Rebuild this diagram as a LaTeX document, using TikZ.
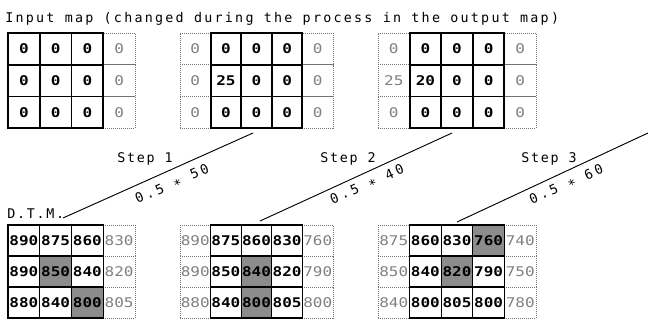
\documentclass[tikz,border=0pt]{standalone}
\usepackage{fontspec}
\newfontfamily\plotfont[LetterSpace=13]{DejaVu Sans Mono}
\newfontfamily\titlefont[LetterSpace=17]{DejaVu Sans Mono}
\newfontfamily\facfont[LetterSpace=22]{DejaVu Sans Mono}
\newfontfamily\numfont[FakeStretch=1.2]{DejaVu Sans Mono}
\tikzset{
  lbl/.style={font=\plotfont\fontsize{10}{12}\selectfont, inner sep=0pt},
  ttl/.style={font=\titlefont\fontsize{10}{12}\selectfont, inner sep=0pt},
  fac/.style={font=\facfont\fontsize{10}{12}\selectfont, inner sep=0pt, rotate=23.6},
  cellbase/.style={inner sep=0pt, outer sep=0pt, font=\numfont\fontsize{10}{12}\selectfont},
  cL/.style={cellbase, draw=black!55, densely dotted, line width=0.5pt, text=black!50},
  cB/.style={cellbase, draw=black, line width=1.3pt, font=\numfont\bfseries\fontsize{10}{12}\selectfont},
  cM/.style={cellbase, draw=black, line width=0.8pt, font=\numfont\bfseries\fontsize{10}{12}\selectfont},
  cS/.style={cM, fill=black!45},
  frameT/.style={draw=black, line width=1.6pt},
  frameB/.style={draw=black, line width=1.1pt},
  conn/.style={draw=black, line width=0.7pt},
}
\newcommand\cellnode[2]{\node[#1,#2]}
% #1 name, #2 x0, #3 y0, #4 w, #5 h, #6 data r/c/value/style
\newcommand\mkgrid[6]{%
  \foreach \gr/\gc/\gv/\gs in {#6}{%
    \edef\gsty{c\gs}%
    \expandafter\cellnode\expandafter{\gsty}{minimum width=#4*0.75pt, minimum height=#5*0.75pt}
      (#1-\gr-\gc) at ({#2+(\gc-0.5)*#4},{#3+(\gr-0.5)*#5}) {\gv};
  }%
}
\begin{document}
\begin{tikzpicture}[x=0.75pt,y=-0.75pt]
\useasboundingbox (0,0) rectangle (648,320);

% title
\node[ttl, anchor=base west] (title) at (5,22.5) {Input map (changed during the process in the output map)};

% top grids
\mkgrid{T1}{8}{33}{31.75}{31.7}{1/4/0/L,2/4/0/L,3/4/0/L,
  1/1/0/B,1/2/0/B,1/3/0/B,2/1/0/B,2/2/0/B,2/3/0/B,3/1/0/B,3/2/0/B,3/3/0/B}
\draw[frameT] (T1-1-1.north west) rectangle (T1-3-3.south east);

\mkgrid{T2}{180}{33}{30.6}{31.7}{1/1/0/L,2/1/0/L,3/1/0/L,1/5/0/L,2/5/0/L,3/5/0/L,
  1/2/0/B,1/3/0/B,1/4/0/B,2/2/25/B,2/3/0/B,2/4/0/B,3/2/0/B,3/3/0/B,3/4/0/B}
\draw[frameT] (T2-1-2.north west) rectangle (T2-3-4.south east);

\mkgrid{T3}{378}{33}{31.6}{31.7}{1/1/0/L,2/1/25/L,3/1/0/L,1/5/0/L,2/5/0/L,3/5/0/L,
  1/2/0/B,1/3/0/B,1/4/0/B,2/2/20/B,2/3/0/B,2/4/0/B,3/2/0/B,3/3/0/B,3/4/0/B}
\draw[frameT] (T3-1-2.north west) rectangle (T3-3-4.south east);

% bottom grids (D.T.M.)
\mkgrid{B1}{8}{225}{31.75}{31}{1/4/830/L,2/4/820/L,3/4/805/L,
  1/1/890/M,1/2/875/M,1/3/860/M,2/1/890/M,2/2/850/S,2/3/840/M,3/1/880/M,3/2/840/M,3/3/800/S}
\draw[frameB] (B1-1-1.north west) rectangle (B1-3-3.south east);

\mkgrid{B2}{180}{225}{30.6}{31}{1/1/890/L,2/1/890/L,3/1/880/L,1/5/760/L,2/5/790/L,3/5/800/L,
  1/2/875/M,1/3/860/M,1/4/830/M,2/2/850/M,2/3/840/S,2/4/820/M,3/2/840/M,3/3/800/S,3/4/805/M}
\draw[frameB] (B2-1-2.north west) rectangle (B2-3-4.south east);

\mkgrid{B3}{378}{225}{31.6}{31}{1/1/875/L,2/1/850/L,3/1/840/L,1/5/740/L,2/5/750/L,3/5/780/L,
  1/2/860/M,1/3/830/M,1/4/760/S,2/2/840/M,2/3/820/S,2/4/790/M,3/2/800/M,3/3/805/M,3/4/800/M}
\draw[frameB] (B3-1-2.north west) rectangle (B3-3-4.south east);

% labels
\node[lbl, anchor=base west] (dtm) at (7,218) {D.T.M.};
\node[lbl, anchor=base] (step1) at (145,162.7) {Step 1};
\node[lbl, anchor=base] (step2) at (348,162.7) {Step 2};
\node[lbl, anchor=base] (step3) at (549,162.7) {Step 3};
\node[fac] (f1) at (172.5,185) {0.5 \raisebox{-0.25em}{*} 50};
\node[fac] (f2) at (367.5,185.5) {0.5 \raisebox{-0.25em}{*} 40};
\node[fac] (f3) at (566.7,185.5) {0.5 \raisebox{-0.25em}{*} 60};

% connectors
\coordinate (a1) at (63,218);  \coordinate (b1) at (253,133);
\coordinate (a2) at (260,221); \coordinate (b2) at (452,133);
\coordinate (a3) at (457,222); \coordinate (b3) at (648,133);
\draw[conn] (a1) -- (b1);
\draw[conn] (a2) -- (b2);
\draw[conn] (a3) -- (b3);
\end{tikzpicture}
\end{document}
